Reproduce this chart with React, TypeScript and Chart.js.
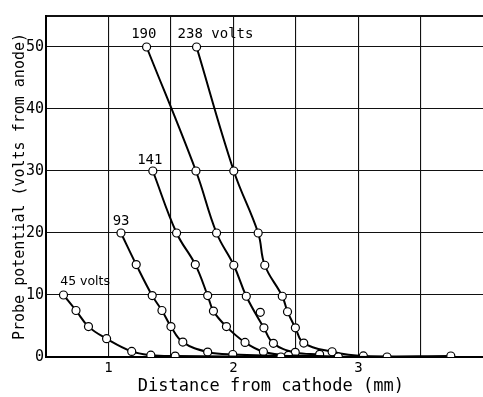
import React, { useEffect, useRef } from 'react';
import { Chart, registerables } from 'chart.js';

Chart.register(...registerables);

// Series names (curve labels)
const seriesLabels = ['45 volts', '93', '141', '190', '238 volts'];

// Distance from cathode (mm) and probe potential (volts from anode)
const x45 = [0.64, 0.74, 0.84, 0.985, 1.186, 1.339, 1.534, 2.38];
const y45 = [10, 7.5, 4.9, 2.95, 0.9, 0.3, 0.15, 0];

const x93 = [1.1, 1.222, 1.35, 1.428, 1.5, 1.595, 1.794, 1.995, 2.84];
const y93 = [20, 14.9, 9.9, 7.5, 4.9, 2.4, 0.8, 0.4, 0];

const x141 = [1.355, 1.545, 1.695, 1.794, 1.84, 1.944, 2.093, 2.24, 2.44, 3.23];
const y141 = [30, 20, 14.9, 9.9, 7.4, 4.9, 2.35, 0.85, 0.27, 0];

const x190 = [1.305, 1.7, 1.865, 2.003, 2.103, 2.244, 2.32, 2.495, 2.69];
const y190 = [50, 30, 20, 14.8, 9.8, 4.7, 2.2, 0.75, 0.43];

const x238 = [1.705, 2.003, 2.198, 2.251, 2.391, 2.433, 2.496, 2.563, 2.79, 3.04, 3.74];
const y238 = [50, 30, 20, 14.8, 9.8, 7.3, 4.7, 2.25, 0.85, 0.17, 0.16];

// Measured points lying off the drawn curves
const strayX = [2.215];
const strayY = [7.2];

// Tick labels
const yTickLabels = [0, 10, 20, 30, 40, 50];
const xTickLabels = [1, 2, 3];

const xTitle = 'Distance from cathode (mm)';
const yTitle = 'Probe potential (volts from anode)';

// label placement styles relative to the first point of each curve
const labelStyles = [
  { dx: -3.3, dy: -13.5, font: '12.5px "DejaVu Sans"' },
  { dx: -8.3, dy: -12, font: '14px "DejaVu Sans Mono"' },
  { dx: -15.7, dy: -11, font: '14px "DejaVu Sans Mono"' },
  { dx: -15.4, dy: -12.5, font: '14px "DejaVu Sans Mono"' },
  { dx: -19, dy: -12.5, font: '14px "DejaVu Sans Mono"' },
];

const near = (arr: number[], v: number) => arr.some((a) => Math.abs(a - v) < 1e-6);

export default function App() {
  const ref = useRef<HTMLCanvasElement | null>(null);

  useEffect(() => {
    if (!ref.current) return;
    const toPts = (xs: number[], ys: number[]) => xs.map((x, i) => ({ x, y: ys[i] }));
    const series = [
      [x45, y45],
      [x93, y93],
      [x141, y141],
      [x190, y190],
      [x238, y238],
    ];
    const datasets: any[] = series.map(([xs, ys], i) => ({
      label: seriesLabels[i],
      data: toPts(xs, ys),
      showLine: true,
      borderColor: '#000',
      borderWidth: 2,
      tension: 0.4,
      pointRadius: 4,
      pointBorderWidth: 1.2,
      pointBackgroundColor: '#fff',
      pointBorderColor: '#000',
      fill: false,
    }));
    datasets.push({
      label: 'off-curve',
      data: toPts(strayX, strayY),
      showLine: false,
      pointRadius: 4,
      pointBorderWidth: 1.2,
      pointBackgroundColor: '#fff',
      pointBorderColor: '#000',
    });

    const labelPlugin = {
      id: 'curveLabels',
      afterDatasetsDraw(chart: any) {
        const { ctx, scales } = chart;
        ctx.save();
        ctx.fillStyle = '#000';
        ctx.textAlign = 'left';
        ctx.textBaseline = 'middle';
        series.forEach(([xs, ys], i) => {
          const st = labelStyles[i];
          const px = scales.x.getPixelForValue(xs[0]);
          const py = scales.y.getPixelForValue(ys[0]);
          ctx.font = st.font;
          ctx.fillText(seriesLabels[i], px + st.dx, py + st.dy);
        });
        ctx.restore();
      },
    };

    const chart = new Chart(ref.current, {
      type: 'scatter',
      data: { datasets },
      options: {
        animation: false,
        responsive: false,
        layout: { padding: { top: 16, right: 0, left: 0, bottom: 0 } },
        plugins: { legend: { display: false }, tooltip: { enabled: false } },
        scales: {
          x: {
            type: 'linear',
            min: 0.5,
            max: 4.1,
            ticks: {
              stepSize: 0.5,
              autoSkip: false,
              maxRotation: 0,
              padding: 3,
              color: '#000',
              font: { family: 'DejaVu Sans Mono', size: 14 },
              callback: (v: any) => (near(xTickLabels, Number(v)) ? String(Math.round(Number(v))) : ''),
            },
            grid: { color: '#111', lineWidth: 1.1, drawTicks: false },
            border: { display: true, color: '#000', width: 2 },
            title: {
              display: true,
              text: xTitle,
              color: '#000',
              font: { family: 'DejaVu Sans Mono', size: 17 },
              padding: { top: 0, bottom: 0 },
            },
            afterFit: (s: any) => {
              s.height = 40;
            },
          },
          y: {
            type: 'linear',
            min: 0,
            max: 55,
            ticks: {
              stepSize: 10,
              padding: 2,
              color: '#000',
              font: { family: 'DejaVu Sans Mono', size: 15 },
              callback: (v: any) => (near(yTickLabels, Number(v)) ? String(v) : ''),
            },
            grid: {
              color: '#111',
              lineWidth: (c: any) => (c.tick && c.tick.value === 55 ? 2 : 1.1),
              drawTicks: false,
            },
            border: { display: true, color: '#000', width: 2 },
            title: {
              display: true,
              text: yTitle,
              color: '#000',
              font: { family: 'DejaVu Sans Mono', size: 15 },
              padding: { top: 11, bottom: 0 },
            },
            afterFit: (s: any) => {
              s.width = 46;
            },
          },
        },
      } as any,
      plugins: [labelPlugin],
    });
    return () => chart.destroy();
  }, []);

  return (
    <div
      style={{
        position: 'fixed',
        left: 0,
        top: 0,
        width: 483,
        height: 397,
        overflow: 'hidden',
        background: '#fff',
      }}
    >
      <canvas ref={ref} width={501} height={397} style={{ display: 'block', width: 501, height: 397 }} />
    </div>
  );
}
